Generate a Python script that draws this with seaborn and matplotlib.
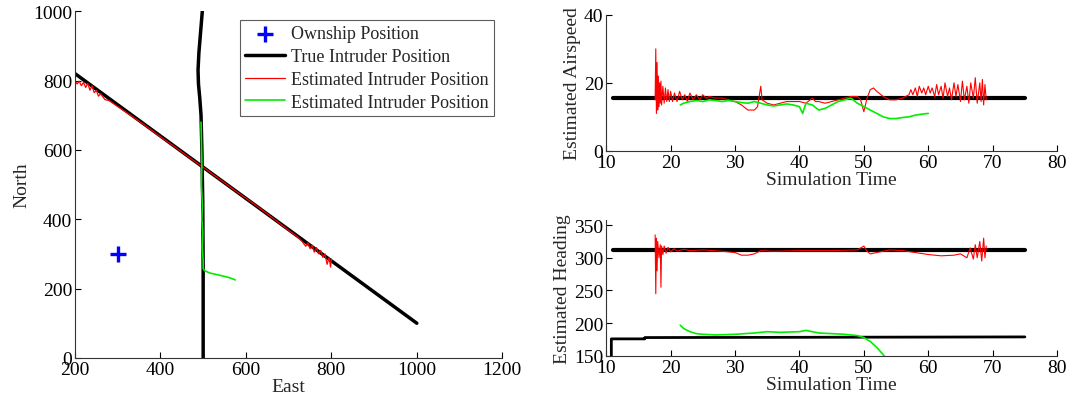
import matplotlib
matplotlib.use("Agg")
from matplotlib import pyplot as plt
import pandas as pd
import seaborn as sns

# ---- left panel: positions ----
own_east = [300]
own_north = [300]

true1_east = [200, 1000]
true1_north = [820, 100]

true2_east = [500, 500, 499, 497, 495, 492, 489, 488, 490, 494, 498]
true2_north = [0, 250, 450, 600, 700, 750, 790, 830, 880, 940, 1000]

red_east = [200, 205, 210, 215, 220, 225, 230, 235, 240, 245, 250, 255, 260, 270, 280, 300,
            330, 360, 400, 440, 480, 500, 540, 580, 620, 660, 700, 720, 730, 740, 745, 750,
            755, 760, 765, 770, 775, 780, 785, 790, 795, 798, 800]
red_north = [800, 790, 798, 785, 795, 780, 792, 772, 785, 765, 772, 755, 762, 745, 742, 725,
             700, 674, 638, 603, 567, 550, 514, 478, 443, 406, 368, 350, 338, 322, 332, 315,
             325, 305, 318, 300, 310, 290, 300, 270, 290, 262, 285]

green_east = [495, 496, 497, 496, 498, 497, 499, 498, 500, 500, 503, 515, 540, 560, 575]
green_north = [680, 620, 560, 500, 440, 400, 360, 320, 280, 258, 252, 245, 238, 232, 225]

# ---- airspeed ----
true_as_t = [11, 75]
true_as = [15.5, 15.5]

red_as_t = [17.6, 17.7, 17.8, 17.9, 18.0, 18.1, 18.2, 18.3, 18.4, 18.5, 18.6, 18.8, 19.0, 19.2,
            19.4, 19.6, 19.8, 20.0, 20.3, 20.6, 21.0, 21.4, 21.8, 22.2, 22.6, 23.0, 23.5, 24.0,
            24.5, 25.0, 25.5, 26.0, 27.0, 28.0, 29.0, 30.0, 31.0, 32.0, 33.0, 33.5, 34.0, 34.2,
            35.0, 36.0, 37.0, 38.0, 39.0, 40.0, 41.0, 42.0, 42.5, 43.0, 44.0, 45.0, 46.0, 47.0,
            48.0, 49.0, 49.5, 50.0, 50.5, 51.0, 51.5, 52.0, 53.0, 54.0, 55.0, 56.0, 57.0, 57.3,
            57.6, 58.0, 58.3, 58.6, 59.0, 59.3, 59.6, 60.0, 60.3, 60.6, 61.0, 61.3, 61.6, 62.0,
            62.3, 62.6, 63.0, 63.3, 63.6, 64.0, 64.3, 64.6, 65.0, 65.3, 65.6, 66.0, 66.3, 66.6,
            67.0, 67.3, 67.6, 68.0, 68.2, 68.4, 68.6, 68.8, 69.0]
red_as = [15, 30, 11, 26, 12, 22, 13, 20, 14, 20.5, 13.5, 19, 14, 18.5, 14.5, 18, 14.5, 17.5, 14.5,
          17, 14.5, 17.5, 15, 16.5, 14.5, 17, 15, 16.5, 15, 16.5, 15.5, 16, 15.5, 15.5, 15, 14.5,
          13.5, 12, 12, 13, 19, 15, 14, 13.5, 14, 14.5, 14.5, 14.5, 14, 15.5, 14.5, 14.5, 14, 14.5,
          15, 15.5, 16, 16, 15, 11.5, 15.5, 18, 18.5, 17.5, 16, 15, 15, 15.5, 16.5, 18, 16.5,
          18.5, 16, 19, 17, 18.5, 16.5, 19, 17, 18.5, 16, 19.5, 16.5, 19, 15.5, 20, 16, 18.5,
          15, 20, 16, 19.5, 14.5, 20.5, 15, 19, 14, 20, 15.5, 21.5, 14, 20, 14.5, 21, 13.5, 19.5, 15]

green_as_t = [21.5, 22, 23, 24, 25, 26, 27, 28, 29, 30, 31, 32, 33, 34, 35, 36, 37, 38, 39, 40,
              40.5, 41, 42, 43, 44, 45, 46, 47, 48, 49, 50, 51, 52, 53, 54, 55, 56, 57, 58, 59, 60]
green_as = [13.5, 14, 14.5, 14.8, 14.5, 15, 14.8, 14.5, 14.8, 14.5, 14.2, 14, 14.5, 14, 13.5,
            13.2, 13.5, 13.8, 13.5, 13, 11, 14, 13.5, 12, 12.5, 13.5, 14.5, 15, 15.5, 14, 13,
            12, 11, 10, 9.5, 9.5, 9.8, 10, 10.5, 10.8, 11]

# ---- heading ----
true_hd1_t = [11, 75]
true_hd1 = [312, 312]
true_hd2_t = [10.8, 10.8, 16, 16, 75]
true_hd2 = [150, 176, 176, 178, 179]

red_hd_t = [17.6, 17.7, 17.8, 17.9, 18.0, 18.2, 18.4, 18.5, 18.6, 18.8, 19.0, 19.3, 19.6, 20.0,
            20.5, 21, 22, 23, 25, 28, 30, 31, 32, 33, 34, 36, 40, 45, 49, 50, 50.5, 51, 52, 54,
            56, 58, 60, 62, 64, 65, 66, 66.5, 67, 67.3, 67.6, 68, 68.3, 68.6, 68.8, 69]
red_hd = [335, 245, 330, 280, 325, 300, 320, 255, 318, 305, 318, 307, 316, 309, 314, 310, 313,
          311, 312, 310, 308, 304, 304, 306, 311, 310, 311, 311, 312, 318, 310, 306, 308, 312,
          311, 308, 305, 303, 304, 306, 300, 315, 298, 320, 300, 325, 295, 330, 300, 318]

green_hd_t = [21.5, 22, 23, 24, 25, 27, 30, 33, 35, 37, 40, 41, 43, 45, 47, 49, 50, 51, 52, 53, 53.3]
green_hd = [197, 192, 187, 184, 183, 182, 183, 185, 187, 186, 187, 189, 185, 184, 183, 181,
            178, 172, 163, 152, 148]

sns.set_style("ticks", {"xtick.direction": "in", "ytick.direction": "in"})
plt.rcParams["font.family"] = ["Liberation Serif", "DejaVu Serif"]
plt.rcParams["font.size"] = 12

fig = plt.figure(figsize=(10.71, 4.06), dpi=100)
ax = fig.add_axes([0.070, 0.116, 0.399, 0.854])
ax1 = fig.add_axes([0.566, 0.626, 0.421, 0.335])
ax2 = fig.add_axes([0.566, 0.121, 0.421, 0.335])

RED = "#ff0000"
GREEN = "#00ee00"


def path(a, x, y, **kw):
    df = pd.DataFrame({"x": x, "y": y})
    sns.lineplot(data=df, x="x", y="y", sort=False, estimator=None, ax=a, **kw)


# left panel
sns.scatterplot(x=own_east, y=own_north, marker="+", s=120, color="blue", linewidth=2.4,
                ax=ax, label="Ownship Position")
path(ax, true1_east, true1_north, color="black", lw=2.5, label="True Intruder Position")
path(ax, true2_east, true2_north, color="black", lw=2.5)
path(ax, red_east, red_north, color=RED, lw=0.9, label="Estimated Intruder Position")
path(ax, green_east, green_north, color=GREEN, lw=1.2, label="Estimated Intruder Position")
ax.set_xlim(200, 1200)
ax.set_ylim(0, 1000)
ax.set_xticks(range(200, 1201, 200))
ax.set_yticks(range(0, 1001, 200))
ax.set_xlabel("East", fontsize=14, labelpad=0)
ax.set_ylabel("North", fontsize=14, labelpad=2)
leg = ax.legend(loc="upper right", bbox_to_anchor=(0.99, 0.985), fontsize=13,
                frameon=True, fancybox=False, edgecolor="#333333", handlelength=2.2,
                handletextpad=0.35, borderpad=0.3, labelspacing=0.32, borderaxespad=0.2)
leg.get_frame().set_linewidth(0.8)

# airspeed
path(ax1, true_as_t, true_as, color="black", lw=3)
path(ax1, red_as_t, red_as, color=RED, lw=0.8)
path(ax1, green_as_t, green_as, color=GREEN, lw=1.2)
ax1.set_xlim(10, 80)
ax1.set_ylim(0, 40)
ax1.set_yticks([0, 20, 40])
ax1.set_xlabel("Simulation Time", fontsize=14, labelpad=0)
ax1.set_ylabel("Estimated Airspeed", fontsize=14, labelpad=2)

# heading
path(ax2, true_hd1_t, true_hd1, color="black", lw=3)
path(ax2, true_hd2_t, true_hd2, color="black", lw=2)
path(ax2, red_hd_t, red_hd, color=RED, lw=0.8)
path(ax2, green_hd_t, green_hd, color=GREEN, lw=1.2)
ax2.set_xlim(10, 80)
ax2.set_ylim(150, 358)
ax2.set_yticks([150, 200, 250, 300, 350])
ax2.set_xlabel("Simulation Time", fontsize=14, labelpad=0)
ax2.set_ylabel("Estimated Heading", fontsize=14, labelpad=2)

for a in (ax, ax1, ax2):
    sns.despine(ax=a)
    a.tick_params(labelsize=14, length=4, width=0.8, colors="black", pad=2)
    for s in a.spines.values():
        s.set_linewidth(0.8)
        s.set_color("#333333")

fig.savefig("out.png", dpi=100)
